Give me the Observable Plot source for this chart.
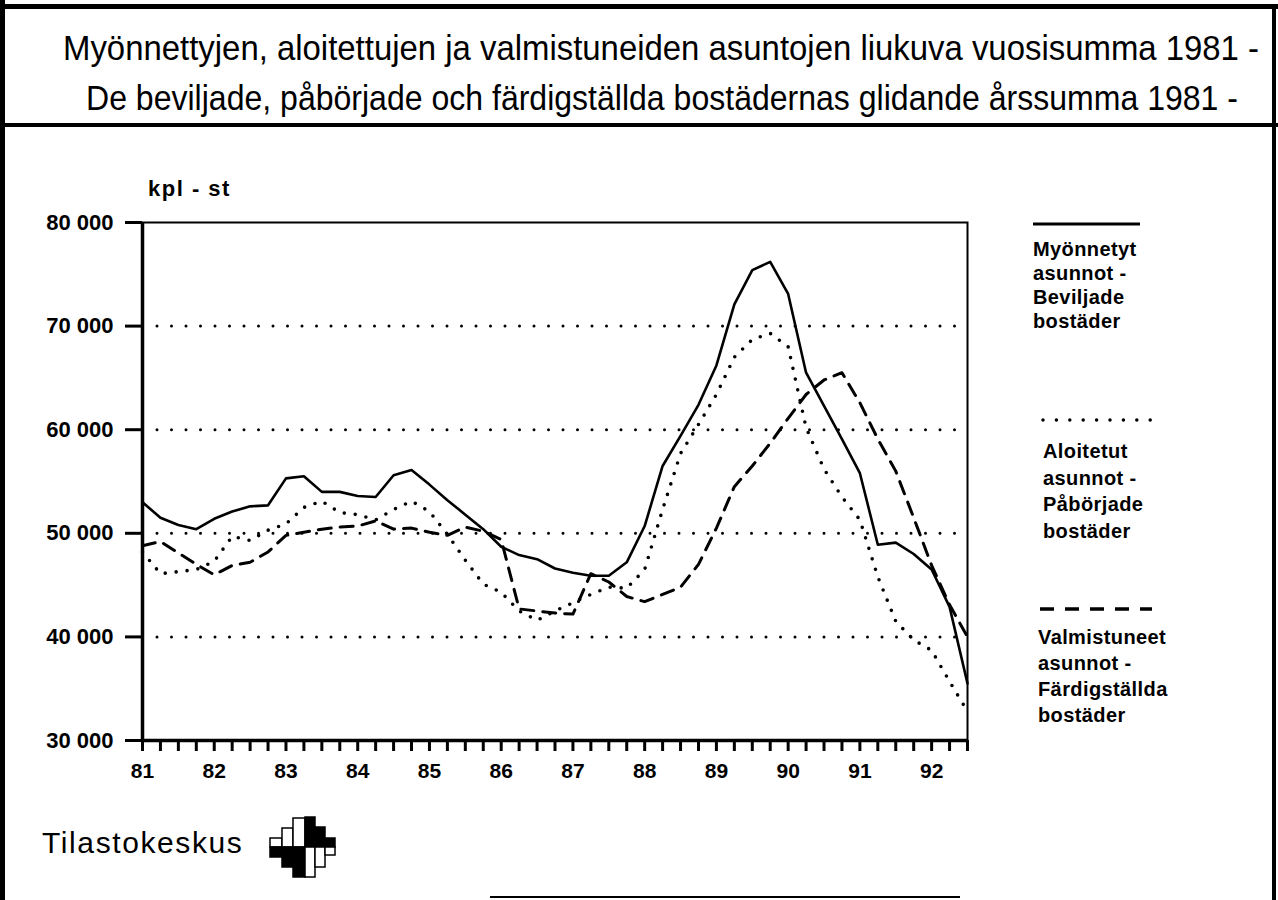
<!DOCTYPE html>
<html>
<head>
<meta charset="utf-8">
<script src="https://cdn.jsdelivr.net/npm/d3@7"></script>
<script src="https://cdn.jsdelivr.net/npm/@observablehq/plot@0.6"></script>
<style>
  html, body { margin: 0; padding: 0; background: #fff; }
  body { width: 1278px; height: 900px; position: relative; overflow: hidden;
         font-family: "Liberation Sans", Arial, Helvetica, sans-serif; color: #000; }
  .abs { position: absolute; }
  .title { position: absolute; font-size: 35px; line-height: 1; white-space: nowrap; transform-origin: 0 0; }
  .leg { position: absolute; font-weight: bold; font-size: 20px; letter-spacing: 0.4px; white-space: nowrap; }
</style>
</head>
<body>
<!-- page borders -->
<div class="abs" style="left:0;top:0;width:5px;height:900px;background:#000"></div>
<div class="abs" style="left:0;top:4px;width:1278px;height:5px;background:#000"></div>
<div class="abs" style="left:1272px;top:4px;width:4px;height:896px;background:#000"></div>
<div class="abs" style="left:0;top:123px;width:1278px;height:4px;background:#000"></div>
<div class="abs" style="left:490px;top:896px;width:470px;height:2px;background:#000"></div>

<div id="t1" class="title" style="left:63px;top:30px">Myönnettyjen, aloitettujen ja valmistuneiden asuntojen liukuva vuosisumma 1981 -</div>
<div id="t2" class="title" style="left:86px;top:80px">De beviljade, påbörjade och färdigställda bostädernas glidande årssumma 1981 -</div>

<div class="abs" style="left:148px;top:176px;font-weight:bold;font-size:22px;letter-spacing:1.5px;">kpl - st</div>

<div id="chart" class="abs" style="left:0;top:150px"></div>

<!-- legend samples -->
<svg class="abs" style="left:1000px;top:200px" width="200" height="440">
  <line x1="33" y1="24" x2="140" y2="24" stroke="#000" stroke-width="3"/>
  <line x1="43" y1="220" x2="152" y2="220" stroke="#000" stroke-width="3.5" stroke-dasharray="0 13.4" stroke-linecap="round"/>
  <line x1="40" y1="409" x2="152" y2="409" stroke="#000" stroke-width="3.5" stroke-dasharray="14 11"/>
</svg>
<div class="leg" style="left:1033px;top:237px;line-height:24px">Myönnetyt<br>asunnot -<br>Beviljade<br>bostäder</div>
<div class="leg" style="left:1043px;top:438px;line-height:26.5px">Aloitetut<br>asunnot -<br>Påbörjade<br>bostäder</div>
<div class="leg" style="left:1038px;top:624px;line-height:26px">Valmistuneet<br>asunnot -<br>Färdigställda<br>bostäder</div>

<!-- footer -->
<div class="abs" style="left:42px;top:826px;font-size:30px;letter-spacing:1.6px;">Tilastokeskus</div>
<svg class="abs" style="left:268px;top:814px" width="72" height="66">
  <g stroke="#000" stroke-width="1.5">
    <rect x="2" y="24" width="12" height="9" fill="#fff"/>
    <rect x="14" y="14" width="11" height="19" fill="#fff"/>
    <rect x="25" y="4" width="12" height="29" fill="#fff"/>
    <rect x="37" y="3" width="10" height="30" fill="#000"/>
    <rect x="47" y="13" width="10" height="20" fill="#000"/>
    <rect x="57" y="24" width="10" height="9" fill="#000"/>
    <rect x="2" y="33" width="12" height="10" fill="#000"/>
    <rect x="14" y="33" width="11" height="20" fill="#000"/>
    <rect x="25" y="33" width="12" height="30" fill="#000"/>
    <rect x="37" y="33" width="10" height="30" fill="#fff"/>
    <rect x="47" y="33" width="10" height="20" fill="#fff"/>
    <rect x="57" y="33" width="10" height="8" fill="#fff"/>
  </g>
</svg>

<script>
// Quarterly time points (decimal years, 81 = 1981)
const quarters = [81, 81.25, 81.5, 81.75, 82, 82.25, 82.5, 82.75, 83, 83.25, 83.5, 83.75,
  84, 84.25, 84.5, 84.75, 85, 85.25, 85.5, 85.75, 86, 86.25, 86.5, 86.75,
  87, 87.25, 87.5, 87.75, 88, 88.25, 88.5, 88.75, 89, 89.25, 89.5, 89.75,
  90, 90.25, 90.5, 90.75, 91, 91.25, 91.5, 91.75, 92, 92.25, 92.5];

// Myönnetyt asunnot - Beviljade bostäder (solid)
const granted = [53000, 51500, 50800, 50400, 51400, 52100, 52600, 52700, 55300, 55500, 54000, 54000,
  53600, 53500, 55600, 56100, 54700, 53200, 51800, 50400, 48700, 47900, 47500, 46600,
  46200, 45900, 45900, 47200, 50700, 56500, 59400, 62400, 66200, 72100, 75400, 76200,
  73100, 65500, 62300, 59100, 55800, 48900, 49100, 48000, 46500, 42900, 35500];

// Aloitetut asunnot - Påbörjade bostäder (dotted)
const started = [48200, 46100, 46300, 46500, 47300, 49700, 49300, 50300, 50900, 52500, 53100, 52000,
  51800, 51300, 52300, 53100, 52100, 49900, 47400, 45100, 44300, 42500, 41600, 42500,
  43300, 44100, 44800, 44700, 46500, 52300, 57700, 60500, 63400, 67000, 68700, 69300,
  68000, 60200, 56200, 53500, 51300, 45800, 41500, 39700, 38700, 35700, 32800];

// Valmistuneet asunnot - Färdigställda bostäder (dashed)
const completed = [48800, 49200, 48100, 47000, 46000, 46900, 47200, 48200, 49800, 50100, 50400, 50600,
  50700, 51200, 50400, 50500, 50100, 49800, 50600, 50200, 49400, 42700, 42500, 42300,
  42200, 46100, 45300, 43900, 43400, 44100, 44800, 47000, 50500, 54500, 56500, 58700,
  61100, 63400, 64800, 65500, 62600, 59100, 56000, 51500, 46900, 43100, 40000];

const yTicks = [30000, 40000, 50000, 60000, 70000, 80000];
const gridValues = [40000, 50000, 60000, 70000];
const xYears = [81, 82, 83, 84, 85, 86, 87, 88, 89, 90, 91, 92];
const xTickLabels = ["81", "82", "83", "84", "85", "86", "87", "88", "89", "90", "91", "92"];

// fit the condensed title lines to their widths in the reference
[["t1", 1196], ["t2", 1152]].forEach(([id, w]) => {
  const el = document.getElementById(id);
  const natural = el.getBoundingClientRect().width;
  el.style.transform = `scaleX(${w / natural})`;
});

const data = quarters.map((q, i) => ({q, granted: granted[i], started: started[i], completed: completed[i]}));
const fmtY = d => d3.format(",")(d).replace(/,/g, " ");
const fmtX = d => { const i = xYears.indexOf(d); return i >= 0 ? xTickLabels[i] : ""; };

const chart = Plot.plot({
  width: 1000,
  height: 650,
  marginLeft: 142,
  marginRight: 33,
  marginTop: 72,
  marginBottom: 60,
  x: {domain: [81, 92.5]},
  y: {domain: [30000, 80000]},
  style: {fontFamily: "'Liberation Sans', Arial, sans-serif", fontSize: "22px", fontWeight: "bold", color: "#000", background: "transparent", overflow: "visible"},
  marks: [
    Plot.ruleY(gridValues, {stroke: "#000", strokeWidth: 3, strokeDasharray: "0 14.5", strokeLinecap: "round", strokeDashoffset: -15}),
    Plot.frame({stroke: "#000", strokeWidth: 2}),
    Plot.ruleX([81], {stroke: "#000", strokeWidth: 3.5}),
    Plot.ruleY([30000], {stroke: "#000", strokeWidth: 3.5}),
    Plot.axisY({ticks: yTicks, tickSize: 17, tickPadding: 12, strokeWidth: 3, tickFormat: fmtY, label: null, fontSize: 22, fontWeight: "bold"}),
    Plot.axisX({ticks: quarters, tickSize: 11, tickPadding: 12, strokeWidth: 3, tickFormat: fmtX, label: null, fontSize: 21, fontWeight: "bold"}),
    Plot.line(data, {x: "q", y: "granted", stroke: "#000", strokeWidth: 2.6}),
    Plot.line(data, {x: "q", y: "started", stroke: "#000", strokeWidth: 3.6, strokeDasharray: "0 11", strokeLinecap: "round"}),
    Plot.line(data, {x: "q", y: "completed", stroke: "#000", strokeWidth: 3, strokeDasharray: "13 9"})
  ]
});
document.getElementById("chart").appendChild(chart);
</script>
</body>
</html>
